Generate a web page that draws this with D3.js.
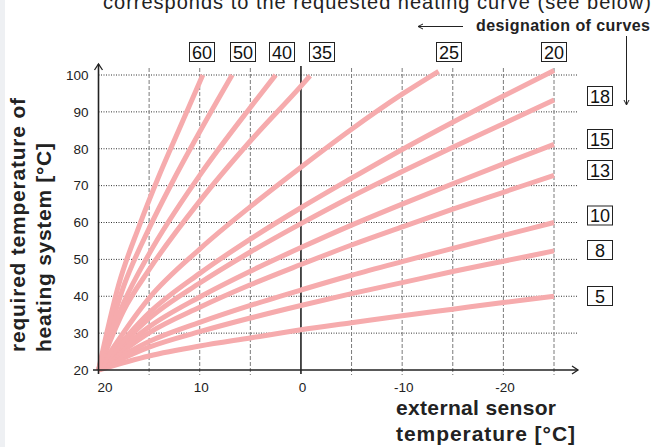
<!DOCTYPE html>
<html>
<head>
<meta charset="utf-8">
<script src="https://cdn.jsdelivr.net/npm/d3@7"></script>
<style>
  body { margin: 0; background: #fff; }
  text { font-family: "Liberation Sans", Arial, sans-serif; }
</style>
</head>
<body>
<div id="chart"></div>
<script>
// outdoor temperatures (x) for the flat curves
const outdoorTemps = [20, 15, 10, 5, 0, -5, -10, -15, -20, -25];

// flow temperature
const flow5  = [20, 23.8, 26.5, 28.7, 30.9, 32.8, 34.7, 36.5, 38.3, 40.0];
const flow8  = [20, 26.2, 30.4, 34.1, 37.5, 40.7, 43.7, 46.7, 49.5, 52.3];
const flow10 = [20, 27.7, 32.9, 37.5, 41.7, 45.7, 49.4, 53.0, 56.5, 60.0];
const flow13 = [20, 30.1, 37.0, 43.1, 48.6, 53.9, 58.8, 63.6, 68.2, 72.8];
const flow15 = [20, 31.7, 39.8, 46.8, 53.2, 59.3, 65.0, 70.5, 75.9, 81.2];
const flow18 = [20, 34.0, 43.6, 52.0, 59.7, 67.0, 73.8, 80.4, 86.8, 93.2];
const flow20 = [20, 35.5, 46.2, 55.5, 64.0, 72.0, 79.8, 87.2, 94.3, 101.2];

// steep curves stop at 100 °C, so they get their own x values
const temps25 = [20, 15, 10, 5, 0, -5, -10, -13.6];
const flow25  = [20, 39.5, 52.8, 64.3, 75.0, 85.3, 94.8, 101];
const temps35 = [20, 17.5, 15, 10, 5, 0, -0.9];
const flow35  = [20, 36.2, 47.2, 65.8, 82.1, 97.0, 99.8];
const temps40 = [20, 17.5, 15, 10, 5, 2.5];
const flow40  = [20, 38.3, 51.5, 72.8, 91.2, 100];
const temps50 = [20, 17.5, 15, 12.5, 10, 6.8];
const flow50  = [20, 42.8, 58.4, 72.0, 84.6, 100];
const temps60 = [20, 18, 16, 14, 12, 9.7];
const flow60  = [20, 43.2, 58.9, 72.8, 85.5, 100];

const curves = [
  [outdoorTemps, flow5], [outdoorTemps, flow8], [outdoorTemps, flow10],
  [outdoorTemps, flow13], [outdoorTemps, flow15], [outdoorTemps, flow18],
  [outdoorTemps, flow20], [temps25, flow25], [temps35, flow35],
  [temps40, flow40], [temps50, flow50], [temps60, flow60]
];

const xTicks = [20, 10, 0, -10, -20];
const yTicks = [20, 30, 40, 50, 60, 70, 80, 90, 100];
const xGrid = [15, 10, 5, -5, -10, -15, -20, -25];
const yGrid = [30, 40, 50, 60, 70, 80, 90, 100];

const topLabels = ["60", "50", "40", "35", "25", "20"];
const rightLabels = ["18", "15", "13", "10", "8", "5"];

let width = 654;
let height = 447;

let svg = d3.select("#chart")
  .append("svg")
  .attr("width", width)
  .attr("height", height);

// grey strip on the left edge
svg.append("rect").attr("x", 0).attr("y", 0).attr("width", 5).attr("height", height).attr("fill", "#eef0f3");

let xScale = d3.scaleLinear().domain([20, -25]).range([98.5, 554]);
let yScale = d3.scaleLinear().domain([20, 100]).range([370, 75]);

// horizontal dotted grid
svg.selectAll(".hgrid")
  .data(yGrid)
  .enter()
  .append("line")
  .attr("x1", xScale(20))
  .attr("x2", 577)
  .attr("y1", d => yScale(d))
  .attr("y2", d => yScale(d))
  .attr("stroke", "#333")
  .attr("stroke-width", 1)
  .attr("stroke-dasharray", "1,1.5");

// vertical dashed grid
svg.selectAll(".vgrid")
  .data(xGrid)
  .enter()
  .append("line")
  .attr("x1", d => xScale(d))
  .attr("x2", d => xScale(d))
  .attr("y1", 68)
  .attr("y2", 375)
  .attr("stroke", "#7a7a7a")
  .attr("stroke-width", 1)
  .attr("stroke-dasharray", "4,2");

// zero line
svg.append("line")
  .attr("x1", xScale(0)).attr("x2", xScale(0))
  .attr("y1", 66).attr("y2", 374)
  .attr("stroke", "#222").attr("stroke-width", 1.6);

// heating curves
const line = d3.line()
  .x(d => xScale(d[0]))
  .y(d => yScale(d[1]))
  .curve(d3.curveMonotoneX);

curves.forEach(c => {
  let pts = c[0].map((t, i) => [t, c[1][i]]);
  svg.append("path")
    .datum(pts)
    .attr("d", line)
    .attr("fill", "none")
    .attr("stroke", "#f6abad")
    .attr("stroke-width", 5);
});

// axes lines with arrows
svg.append("line")
  .attr("x1", 93).attr("x2", 578)
  .attr("y1", yScale(20)).attr("y2", yScale(20))
  .attr("stroke", "#222").attr("stroke-width", 1.6);
svg.append("path")
  .attr("d", "M572,366 L578,370 L572,374")
  .attr("fill", "none").attr("stroke", "#222").attr("stroke-width", 1.3);

svg.append("line")
  .attr("x1", xScale(20)).attr("x2", xScale(20))
  .attr("y1", 374).attr("y2", 64)
  .attr("stroke", "#222").attr("stroke-width", 1.6);
svg.append("path")
  .attr("d", "M94.5,70 L98.5,64 L102.5,70")
  .attr("fill", "none").attr("stroke", "#222").attr("stroke-width", 1.3);

// tick labels
let xAxis = d3.axisBottom(xScale).tickValues(xTicks).tickSize(0).tickPadding(12)
  .tickFormat(d => String(d));
let gx = svg.append("g")
  .attr("transform", "translate(0," + yScale(20) + ")")
  .call(xAxis);
gx.select(".domain").remove();
gx.selectAll("text")
  .attr("font-size", "13.5px")
  .attr("fill", "#222")
  .attr("font-family", "Liberation Sans, Arial, sans-serif")
  .attr("dx", d => d === 20 ? 6 : 1);

let yAxis = d3.axisLeft(yScale).tickValues(yTicks).tickSize(0).tickPadding(10);
let gy = svg.append("g")
  .attr("transform", "translate(" + xScale(20) + ",0)")
  .call(yAxis);
gy.select(".domain").remove();
gy.selectAll("text")
  .attr("font-size", "13.5px")
  .attr("fill", "#222")
  .attr("font-family", "Liberation Sans, Arial, sans-serif");

// axis titles
svg.append("text")
  .attr("x", 396).attr("y", 415)
  .attr("font-size", "21px").attr("font-weight", "bold").attr("fill", "#222")
  .attr("textLength", 160)
  .text("external sensor");
svg.append("text")
  .attr("x", 396).attr("y", 441)
  .attr("font-size", "21px").attr("font-weight", "bold").attr("fill", "#222")
  .attr("textLength", 179)
  .text("temperature [°C]");

svg.append("text")
  .attr("transform", "translate(25,352) rotate(-90)")
  .attr("font-size", "21px").attr("font-weight", "bold").attr("fill", "#222")
  .attr("textLength", 254)
  .text("required temperature of");
svg.append("text")
  .attr("transform", "translate(51,352) rotate(-90)")
  .attr("font-size", "21px").attr("font-weight", "bold").attr("fill", "#222")
  .attr("textLength", 209)
  .text("heating system [°C]");

// header text, cut at the top edge
svg.append("text")
  .attr("x", 103).attr("y", 9)
  .attr("font-size", "20px").attr("fill", "#222")
  .attr("textLength", 548)
  .text("corresponds to the requested heating curve (see below)");

svg.append("text")
  .attr("x", 650).attr("y", 31)
  .attr("text-anchor", "end")
  .attr("font-size", "16px").attr("font-weight", "bold").attr("fill", "#222")
  .attr("textLength", 174)
  .text("designation of curves");
svg.append("line")
  .attr("x1", 418).attr("x2", 463).attr("y1", 26.5).attr("y2", 26.5)
  .attr("stroke", "#222").attr("stroke-width", 1);
svg.append("path")
  .attr("d", "M423,24 L418,26.5 L423,29")
  .attr("fill", "none").attr("stroke", "#222").attr("stroke-width", 1);
svg.append("line")
  .attr("x1", 626.5).attr("x2", 626.5).attr("y1", 36).attr("y2", 105)
  .attr("stroke", "#222").attr("stroke-width", 1);
svg.append("path")
  .attr("d", "M624,100 L626.5,105 L629,100")
  .attr("fill", "none").attr("stroke", "#222").attr("stroke-width", 1);

// curve designation boxes
const topBoxX = [202, 243, 282, 322, 449, 554];
const rightBoxY = [96, 139, 170, 215.5, 250, 296];

function labelBox(cx, cy, txt) {
  svg.append("rect")
    .attr("x", cx - 12.5).attr("y", cy - 9.5)
    .attr("width", 25).attr("height", 19)
    .attr("fill", "#fff").attr("stroke", "#222").attr("stroke-width", 1);
  svg.append("text")
    .attr("x", cx).attr("y", cy + 6.5)
    .attr("text-anchor", "middle")
    .attr("font-size", "18px").attr("fill", "#111")
    .text(txt);
}

topLabels.forEach((t, i) => labelBox(topBoxX[i], 52, t));
rightLabels.forEach((t, i) => labelBox(600, rightBoxY[i], t));
</script>
</body>
</html>
